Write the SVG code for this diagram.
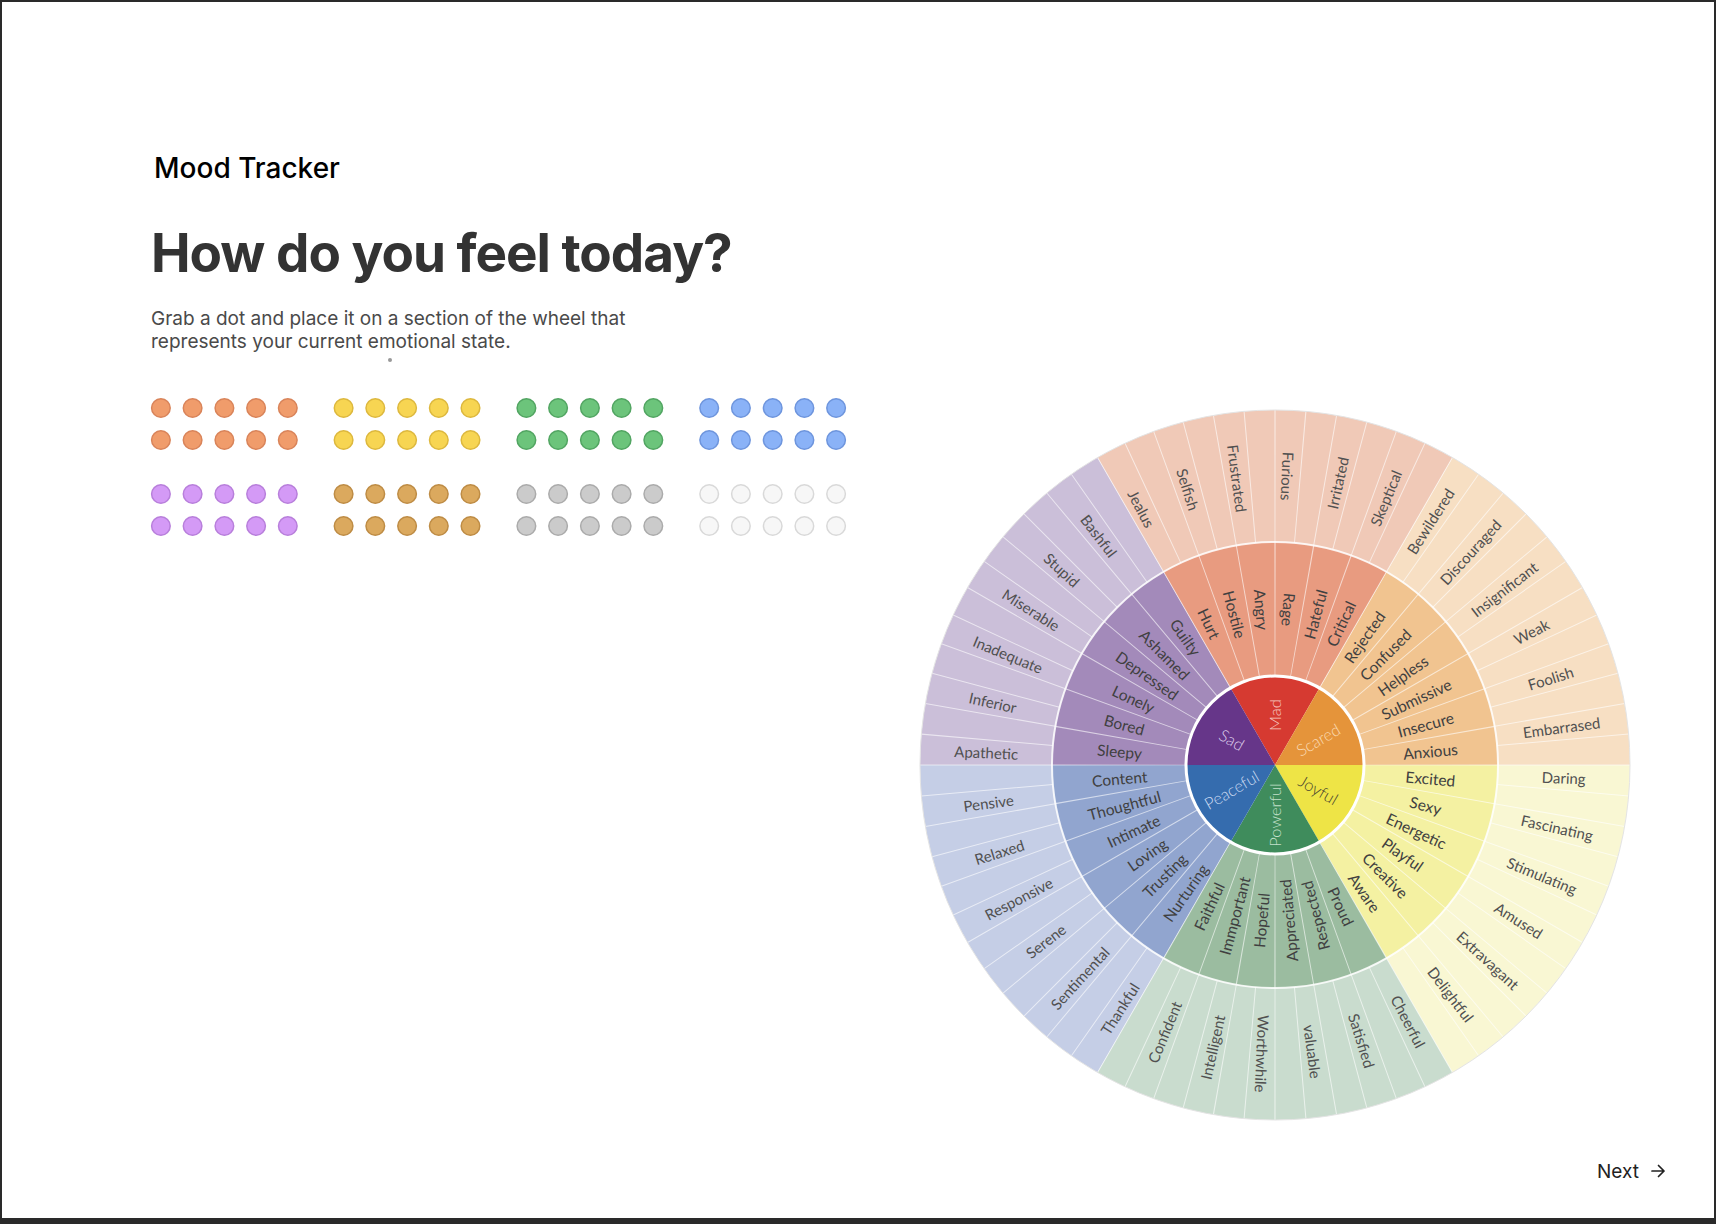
<svg xmlns="http://www.w3.org/2000/svg" xmlns:xlink="http://www.w3.org/1999/xlink" width="1716" height="1224" viewBox="0 0 1716 1224">
<style>
.title{font-family:Inter,"Liberation Sans",sans-serif;font-weight:500;font-size:28px;fill:#000}
.head{font-family:Inter,"Liberation Sans",sans-serif;font-weight:700;font-size:53px;fill:#333;letter-spacing:-1px}
.para{font-family:Inter,"Liberation Sans",sans-serif;font-weight:400;font-size:19px;fill:#4a4a4a}
.next{font-family:Inter,"Liberation Sans",sans-serif;font-weight:400;font-size:19px;fill:#222}
.lbl text{text-anchor:middle;dominant-baseline:central;font-family:Lato,"Open Sans",sans-serif}
.o{font-size:15px;fill:#505050}
.m{font-size:15.5px;fill:#404040}
.i{font-size:16.5px;font-weight:300}
.sep{fill:none;stroke:#fff}
</style>
<defs>
<g id="dots10">
<circle cx="0" cy="0" r="9.3"/><circle cx="31.7" cy="0" r="9.3"/><circle cx="63.5" cy="0" r="9.3"/><circle cx="95.2" cy="0" r="9.3"/><circle cx="126.9" cy="0" r="9.3"/>
<circle cx="0" cy="32" r="9.3"/><circle cx="31.7" cy="32" r="9.3"/><circle cx="63.5" cy="32" r="9.3"/><circle cx="95.2" cy="32" r="9.3"/><circle cx="126.9" cy="32" r="9.3"/>
</g>
</defs>
<rect x="1" y="1" width="1714" height="1220" fill="#fff" stroke="#2a2a2a" stroke-width="2"/>
<rect x="0" y="1218" width="1716" height="6" fill="#2a2a2a"/>

<g id="header">
<text class="title" x="154" y="178">Mood Tracker</text>
<text class="head" x="151" y="272">How do you feel today?</text>
<text class="para" x="151" y="325">Grab a dot and place it on a section of the wheel that</text>
<text class="para" x="151" y="348">represents your current emotional state.</text>
<circle cx="390" cy="360" r="2" fill="#999"/>
</g>

<g id="dots" stroke-width="1.5">
<use xlink:href="#dots10" x="160.9" y="408" fill="#F09C6B" stroke="#D9845A"/>
<use xlink:href="#dots10" x="343.6" y="408" fill="#F7D552" stroke="#DDB83E"/>
<use xlink:href="#dots10" x="526.4" y="408" fill="#6CC47B" stroke="#52A562"/>
<use xlink:href="#dots10" x="709.2" y="408" fill="#8AB2F7" stroke="#6E95DD"/>
<use xlink:href="#dots10" x="160.9" y="494" fill="#D49AF6" stroke="#B87FDB"/>
<use xlink:href="#dots10" x="343.6" y="494" fill="#DBA95E" stroke="#BE8C45"/>
<use xlink:href="#dots10" x="526.4" y="494" fill="#CBCBCB" stroke="#ABABAB"/>
<use xlink:href="#dots10" x="709.2" y="494" fill="#F7F7F7" stroke="#D9D9D9"/>
</g>

<g id="wheel" transform="translate(1275 765)">
<g id="sectors">
<g id="mad">
<path d="M-177.5,-307.43 A355,355 0 0 1 177.5,-307.43 L111.5,-193.12 A223,223 0 0 0 -111.5,-193.12 Z" fill="#F0C9B7"/>
<path d="M-111.5,-193.12 A223,223 0 0 1 111.5,-193.12 L44.5,-77.08 A89,89 0 0 0 -44.5,-77.08 Z" fill="#E89B80"/>
<path d="M0,0 L-44.5,-77.08 A89,89 0 0 1 44.5,-77.08 Z" fill="#D63A31"/>
</g>
<g id="scared">
<path d="M177.5,-307.43 A355,355 0 0 1 355,0 L223,0 A223,223 0 0 0 111.5,-193.12 Z" fill="#F7DFC3"/>
<path d="M111.5,-193.12 A223,223 0 0 1 223,0 L89,0 A89,89 0 0 0 44.5,-77.08 Z" fill="#F1C490"/>
<path d="M0,0 L44.5,-77.08 A89,89 0 0 1 89,0 Z" fill="#E5943A"/>
</g>
<g id="joyful">
<path d="M355,0 A355,355 0 0 1 177.5,307.43 L111.5,193.12 A223,223 0 0 0 223,0 Z" fill="#F9F7D3"/>
<path d="M223,0 A223,223 0 0 1 111.5,193.12 L44.5,77.08 A89,89 0 0 0 89,0 Z" fill="#F4F1A2"/>
<path d="M0,0 L89,0 A89,89 0 0 1 44.5,77.08 Z" fill="#EEE446"/>
</g>
<g id="powerful">
<path d="M177.5,307.43 A355,355 0 0 1 -177.5,307.43 L-111.5,193.12 A223,223 0 0 0 111.5,193.12 Z" fill="#C9DCCE"/>
<path d="M111.5,193.12 A223,223 0 0 1 -111.5,193.12 L-44.5,77.08 A89,89 0 0 0 44.5,77.08 Z" fill="#9BBCA0"/>
<path d="M0,0 L44.5,77.08 A89,89 0 0 1 -44.5,77.08 Z" fill="#3F8C5C"/>
</g>
<g id="peaceful">
<path d="M-177.5,307.43 A355,355 0 0 1 -355,0 L-223,0 A223,223 0 0 0 -111.5,193.12 Z" fill="#C5CEE6"/>
<path d="M-111.5,193.12 A223,223 0 0 1 -223,0 L-89,0 A89,89 0 0 0 -44.5,77.08 Z" fill="#91A5CF"/>
<path d="M0,0 L-44.5,77.08 A89,89 0 0 1 -89,0 Z" fill="#356CAE"/>
</g>
<g id="sad">
<path d="M-355,0 A355,355 0 0 1 -177.5,-307.43 L-111.5,-193.12 A223,223 0 0 0 -223,0 Z" fill="#CBBFD9"/>
<path d="M-223,0 A223,223 0 0 1 -111.5,-193.12 L-44.5,-77.08 A89,89 0 0 0 -89,0 Z" fill="#A38ABA"/>
<path d="M0,0 L-89,0 A89,89 0 0 1 -44.5,-77.08 Z" fill="#663689"/>
</g>
</g>
<g id="separators">
<circle class="sep" r="289" stroke-width="132" stroke-opacity="0.6" pathLength="72" stroke-dasharray="0.04 0.96" stroke-dashoffset="0.02"/>
<circle class="sep" r="156" stroke-width="134" stroke-opacity="0.6" pathLength="36" stroke-dasharray="0.035 0.965" stroke-dashoffset="0.0175"/>
<circle class="sep" r="223" stroke-width="2" stroke-opacity="0.85"/>
<circle class="sep" r="89" stroke-width="3"/>
<circle r="355" fill="none" stroke="#e4e4e4" stroke-width="1"/>
</g>
<g id="labels" class="lbl">
<g id="mad-labels">
<text class="i" fill="#F6CBC3" transform="rotate(270) translate(50) rotate(0)">Mad</text>
<text class="m" transform="rotate(245) translate(156) rotate(180)">Hurt</text>
<text class="m" transform="rotate(255) translate(156) rotate(180)">Hostile</text>
<text class="m" transform="rotate(265) translate(156) rotate(180)">Angry</text>
<text class="m" transform="rotate(275) translate(156) rotate(180)">Rage</text>
<text class="m" transform="rotate(285) translate(156)">Hateful</text>
<text class="m" transform="rotate(295) translate(156)">Critical</text>
<text class="o" transform="rotate(242.5) translate(289) rotate(180)">Jealus</text>
<text class="o" transform="rotate(252.5) translate(289) rotate(180)">Selfish</text>
<text class="o" transform="rotate(262.5) translate(289) rotate(180)">Frustrated</text>
<text class="o" transform="rotate(272.5) translate(289) rotate(180)">Furious</text>
<text class="o" transform="rotate(282.5) translate(289)">Irritated</text>
<text class="o" transform="rotate(292.5) translate(289)">Skeptical</text>
</g>
<g id="scared-labels">
<text class="i" fill="#FADAB2" transform="rotate(330) translate(50)">Scared</text>
<text class="m" transform="rotate(305) translate(156)">Rejected</text>
<text class="m" transform="rotate(315) translate(156)">Confused</text>
<text class="m" transform="rotate(325) translate(156)">Helpless</text>
<text class="m" transform="rotate(335) translate(156)">Submissive</text>
<text class="m" transform="rotate(345) translate(156)">Insecure</text>
<text class="m" transform="rotate(355) translate(156)">Anxious</text>
<text class="o" transform="rotate(302.5) translate(289)">Bewildered</text>
<text class="o" transform="rotate(312.5) translate(289)">Discouraged</text>
<text class="o" transform="rotate(322.5) translate(289)">Insignificant</text>
<text class="o" transform="rotate(332.5) translate(289)">Weak</text>
<text class="o" transform="rotate(342.5) translate(289)">Foolish</text>
<text class="o" transform="rotate(352.5) translate(289)">Embarrased</text>
</g>
<g id="joyful-labels">
<text class="i" fill="#4a4630" transform="rotate(30) translate(50)">Joyful</text>
<text class="m" transform="rotate(5) translate(156)">Excited</text>
<text class="m" transform="rotate(15) translate(156)">Sexy</text>
<text class="m" transform="rotate(25) translate(156)">Energetic</text>
<text class="m" transform="rotate(35) translate(156)">Playful</text>
<text class="m" transform="rotate(45) translate(156)">Creative</text>
<text class="m" transform="rotate(55) translate(156)">Aware</text>
<text class="o" transform="rotate(2.5) translate(289)">Daring</text>
<text class="o" transform="rotate(12.5) translate(289)">Fascinating</text>
<text class="o" transform="rotate(22.5) translate(289)">Stimulating</text>
<text class="o" transform="rotate(32.5) translate(289)">Amused</text>
<text class="o" transform="rotate(42.5) translate(289)">Extravagant</text>
<text class="o" transform="rotate(52.5) translate(289)">Delightful</text>
</g>
<g id="powerful-labels">
<text class="i" fill="#C2E0CA" transform="rotate(90) translate(50) rotate(180)">Powerful</text>
<text class="m" transform="rotate(65) translate(156)">Proud</text>
<text class="m" transform="rotate(75) translate(156) rotate(180)">Respected</text>
<text class="m" transform="rotate(85) translate(156) rotate(180)">Appreciated</text>
<text class="m" transform="rotate(95) translate(156) rotate(180)">Hopeful</text>
<text class="m" transform="rotate(105) translate(156) rotate(180)">Immportant</text>
<text class="m" transform="rotate(115) translate(156) rotate(180)">Faithful</text>
<text class="o" transform="rotate(62.5) translate(289)">Cheerful</text>
<text class="o" transform="rotate(72.5) translate(289)">Satisfied</text>
<text class="o" transform="rotate(82.5) translate(289)">valuable</text>
<text class="o" transform="rotate(92.5) translate(289)">Worthwhile</text>
<text class="o" transform="rotate(102.5) translate(289) rotate(180)">Intelligent</text>
<text class="o" transform="rotate(112.5) translate(289) rotate(180)">Confident</text>
</g>
<g id="peaceful-labels">
<text class="i" fill="#CADAF1" transform="rotate(150) translate(50) rotate(180)">Peaceful</text>
<text class="m" transform="rotate(125) translate(156) rotate(180)">Nurturing</text>
<text class="m" transform="rotate(135) translate(156) rotate(180)">Trusting</text>
<text class="m" transform="rotate(145) translate(156) rotate(180)">Loving</text>
<text class="m" transform="rotate(155) translate(156) rotate(180)">Intimate</text>
<text class="m" transform="rotate(165) translate(156) rotate(180)">Thoughtful</text>
<text class="m" transform="rotate(175) translate(156) rotate(180)">Content</text>
<text class="o" transform="rotate(122.5) translate(289) rotate(180)">Thankful</text>
<text class="o" transform="rotate(132.5) translate(289) rotate(180)">Sentimental</text>
<text class="o" transform="rotate(142.5) translate(289) rotate(180)">Serene</text>
<text class="o" transform="rotate(152.5) translate(289) rotate(180)">Responsive</text>
<text class="o" transform="rotate(162.5) translate(289) rotate(180)">Relaxed</text>
<text class="o" transform="rotate(172.5) translate(289) rotate(180)">Pensive</text>
</g>
<g id="sad-labels">
<text class="i" fill="#DDCCEB" transform="rotate(210) translate(50) rotate(180)">Sad</text>
<text class="m" transform="rotate(185) translate(156) rotate(180)">Sleepy</text>
<text class="m" transform="rotate(195) translate(156) rotate(180)">Bored</text>
<text class="m" transform="rotate(205) translate(156) rotate(180)">Lonely</text>
<text class="m" transform="rotate(215) translate(156) rotate(180)">Depressed</text>
<text class="m" transform="rotate(225) translate(156) rotate(180)">Ashamed</text>
<text class="m" transform="rotate(235) translate(156) rotate(180)">Guilty</text>
<text class="o" transform="rotate(182.5) translate(289) rotate(180)">Apathetic</text>
<text class="o" transform="rotate(192.5) translate(289) rotate(180)">Inferior</text>
<text class="o" transform="rotate(202.5) translate(289) rotate(180)">Inadequate</text>
<text class="o" transform="rotate(212.5) translate(289) rotate(180)">Miserable</text>
<text class="o" transform="rotate(222.5) translate(289) rotate(180)">Stupid</text>
<text class="o" transform="rotate(232.5) translate(289) rotate(180)">Bashful</text>
</g>
</g>
</g>

<g id="next-button">
<text class="next" x="1597" y="1178">Next</text>
<path d="M1652,1171 H1664 M1658.5,1165.5 L1664,1171 L1658.5,1176.5" fill="none" stroke="#222" stroke-width="1.7" stroke-linecap="round" stroke-linejoin="round"/>
</g>
</svg>
